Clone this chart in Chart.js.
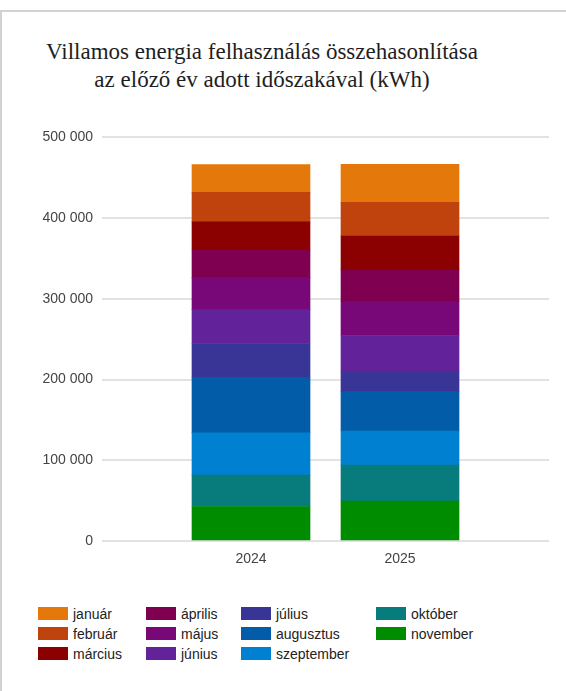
<!DOCTYPE html>
<html lang="hu">
    <head>
        <meta charset="UTF-8">
        <title>Villamos energia</title>
        <script src="https://cdn.jsdelivr.net/npm/chart.js@4.4.1/dist/chart.umd.min.js"></script>
        <style>
            body, html {
                margin: 0;
                padding: 0;
                background-color: #ffffff;
                width: 566px;
                height: 691px;
                overflow: hidden;
            }
            #frame {
                position: absolute;
                left: 0;
                top: 10px;
                width: 600px;
                height: 700px;
                border-left: 2px solid #d2d2d2;
                border-top: 2px solid #d2d2d2;
            }
            #title {
                position: absolute;
                left: 0;
                top: 38px;
                width: 524px;
                text-align: center;
                font-family: 'Liberation Serif', serif;
                font-size: 23px;
                line-height: 28px;
                color: #1e1e1e;
            }
            #wrap {
                position: absolute;
                left: 0;
                top: 120px;
                width: 566px;
                height: 460px;
            }
            #legend {
                position: absolute;
                left: 38px;
                top: 606px;
                display: grid;
                grid-template-rows: 20px 20px 20px;
                grid-template-columns: 108px 95px 135px 140px;
                grid-auto-flow: column;
                font-family: 'Liberation Sans', Arial, sans-serif;
                font-size: 14px;
                color: #222222;
            }
            .item {
                display: flex;
                align-items: center;
                height: 15px;
            }
            .box {
                width: 30px;
                height: 13px;
                margin-right: 5px;
            }
        </style>
    </head>
    <body>
        <div id="frame"></div>
        <div id="title">Villamos energia felhasználás összehasonlítása<br>az előző év adott időszakával (kWh)</div>
        <div id="wrap"><canvas id="myChart" width="566" height="460"></canvas></div>
        <div id="legend"></div>
    </body>
    <script>
        // categories and monthly values (kWh)
        var years = ['2024', '2025']
        var months = ['január', 'február', 'március', 'április', 'május', 'június', 'július', 'augusztus', 'szeptember', 'október', 'november']
        var values2024 = [34500, 36600, 34800, 34500, 39400, 41900, 42400, 68400, 52200, 39000, 42700]
        var values2025 = [46800, 42000, 41900, 39400, 41800, 44900, 24600, 48800, 42300, 44400, 49600]
        var colors = ['#e4780a', '#c0420d', '#8b0000', '#7f0050', '#780878', '#62239a', '#393596', '#035ca8', '#0080d0', '#087c7c', '#008c00']
        var yTicks = [0, 100000, 200000, 300000, 400000, 500000]

        // empty slots on both sides so the two bars sit where they do in the picture
        var labels = [''].concat(years).concat([''])

        var datasets = []
        // november first => it stacks at the bottom
        for (var i = months.length - 1; i >= 0; i--) {
            datasets.push({
                label: months[i],
                data: [null, values2024[i], values2025[i], null],
                backgroundColor: colors[i],
                borderWidth: 0,
                barThickness: 118
            })
        }

        function fmt(v) {
            return String(v).replace(/\B(?=(\d{3})+(?!\d))/g, ' ')
        }

        var ctx = document.getElementById('myChart').getContext('2d')
        var myChart = new Chart(ctx, {
            type: 'bar',
            data: { labels: labels, datasets: datasets },
            options: {
                responsive: false,
                animation: false,
                layout: { padding: { top: 15, right: 17, left: 0, bottom: 0 } },
                plugins: {
                    legend: { display: false },
                    title: { display: false },
                    tooltip: { enabled: false }
                },
                scales: {
                    x: {
                        stacked: true,
                        offset: false,
                        grid: { display: false, drawTicks: false },
                        border: { display: false },
                        ticks: {
                            padding: 10,
                            color: '#444444',
                            font: { family: 'Liberation Sans', size: 14 },
                            maxRotation: 0,
                            autoSkip: false
                        },
                        afterFit: function (scale) { scale.height = 39 }
                    },
                    y: {
                        stacked: true,
                        min: 0,
                        max: 500000,
                        afterBuildTicks: function (scale) {
                            scale.ticks = yTicks.map(function (v) { return { value: v } })
                        },
                        grid: { color: '#e2e2e2', lineWidth: 2, drawTicks: false },
                        border: { display: false },
                        ticks: {
                            padding: 9,
                            color: '#444444',
                            font: { family: 'Liberation Sans', size: 14 },
                            callback: function (v) { return fmt(v) }
                        },
                        afterFit: function (scale) { scale.width = 102 }
                    }
                }
            }
        })

        // legend in columns, like the picture
        var legend = document.getElementById('legend')
        months.forEach(function (m, i) {
            var el = document.createElement('div')
            el.className = 'item'
            el.innerHTML = '<span class="box" style="background:' + colors[i] + '"></span><span>' + m + '</span>'
            legend.appendChild(el)
        })
    </script>
</html>
